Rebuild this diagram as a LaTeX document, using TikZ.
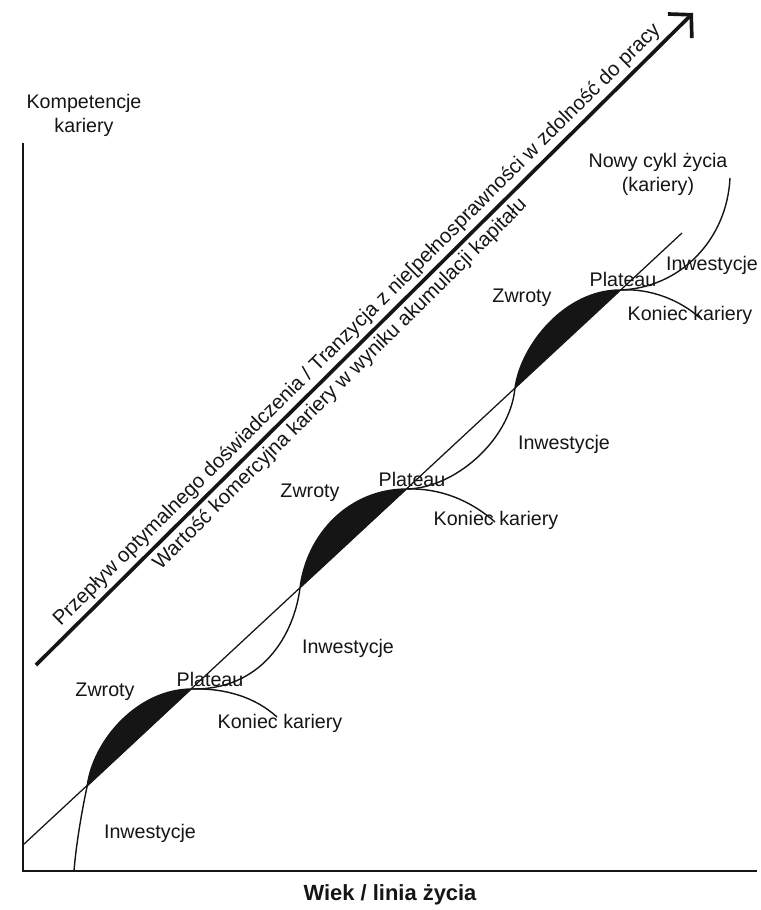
\documentclass[tikz,border=0pt]{standalone}
\usepackage{fontspec}
\setmainfont{Liberation Sans}
\usepackage{tikz}
\usetikzlibrary{arrows.meta}
\definecolor{tusz}{HTML}{151515}
\tikzset{
  os/.style={line width=2pt, color=tusz},
  krzywa/.style={line width=1pt, color=tusz},
  trend/.style={line width=0.9pt, color=tusz},
  strzalka/.style={line width=2.6pt, color=tusz, -{Straight Barb[length=4mm, width=8.5mm]}},
  wypelnienie/.style={fill=tusz},
  etykieta/.style={font=\fontsize{14}{17}\selectfont, text=tusz, inner sep=0pt, align=center},
  opis/.style={font=\fontsize{14.5}{17}\selectfont, text=tusz, inner sep=1pt, sloped},
}

\begin{document}
\begin{tikzpicture}[x=0.25mm, y=-0.25mm]
    \useasboundingbox (0,0) rectangle (761,910);
    % Osie
    \coordinate (ygora) at (23,143);
    \coordinate (o) at (23,871);
    \coordinate (xkoniec) at (757,871);
    \draw[os] (ygora) -- (o) -- (xkoniec);
    \node[etykieta] (kompetencje) at (84,115) {Kompetencje\\kariery};
    \node[etykieta, font=\fontsize{15.6}{18}\selectfont\bfseries] (wiek) at (390,895) {Wiek / linia życia};

    % Strzalka glowna
    \coordinate (s1) at (36,665);
    \coordinate (s2) at (693,13);
    \draw[strzalka] (s1) -- (s2)
      node[opis, pos=0.505, above=1.5pt] (przeplyw) {Przepływ optymalnego doświadczenia / Tranzycja z nie[pełnosprawności w zdolność do pracy}
      node[opis, pos=0.447, below=1.5pt] (wartosc) {Wartość komercyjna kariery w wyniku akumulacji kapitału};

    % Punkty cykli
    \coordinate (t0) at (23,845);
    \coordinate (t1) at (682,233);
    \coordinate (s0) at (74,871);
    \coordinate (a0) at (87,787);
    \coordinate (p1) at (192,689);
    \coordinate (a1) at (300,588);
    \coordinate (p2) at (407,489);
    \coordinate (a2) at (515,388);
    \coordinate (p3) at (620,290);
    \coordinate (k1) at (277,717);
    \coordinate (k2) at (495,522);
    \coordinate (k3) at (700,318);
    \coordinate (n4) at (730,178);

    % Zwroty (wypelnienia)
    \fill[wypelnienie] (a0) .. controls (93,740) and (138,689) .. (p1) -- cycle;
    \fill[wypelnienie] (a1) .. controls (307,533) and (350,489) .. (p2) -- cycle;
    \fill[wypelnienie] (a2) .. controls (521,345) and (565,290) .. (p3) -- cycle;

    % Linia wartosci
    \draw[trend] (t0) -- (t1);

    % Cykle kariery
    \draw[krzywa] (s0) .. controls (76,845) and (82,810) .. (a0)
      .. controls (93,740) and (138,689) .. (p1)
      .. controls (225,688) and (255,697) .. (k1);
    \draw[krzywa] (p1) .. controls (262,690) and (294,635) .. (a1)
      .. controls (307,533) and (350,489) .. (p2)
      .. controls (440,488) and (470,500) .. (k2);
    \draw[krzywa] (p2) .. controls (455,488) and (510,440) .. (a2)
      .. controls (521,345) and (565,290) .. (p3)
      .. controls (650,288) and (680,300) .. (k3);
    \draw[krzywa] (p3) .. controls (680,288) and (727,240) .. (n4);

    % Etykiety
    \foreach \nazwa/\x/\y/\tekst in {
        zwroty1/105/692/Zwroty, plateau1/210/679/Plateau, koniec1/280/723/Koniec kariery, inwestycje1/150/833/Inwestycje,
        zwroty2/310/493/Zwroty, plateau2/412/479/Plateau, koniec2/496/520/Koniec kariery, inwestycje2/348/648/Inwestycje,
        zwroty3/522/298/Zwroty, plateau3/623/279/Plateau, koniec3/690/315/Koniec kariery, inwestycje3/564/444/Inwestycje,
        inwestycje4/712/265/Inwestycje}
      \node[etykieta] (\nazwa) at (\x,\y) {\tekst};
    \node[etykieta] (nowy) at (658,174) {Nowy cykl życia\\(kariery)};
\end{tikzpicture}
\end{document}
